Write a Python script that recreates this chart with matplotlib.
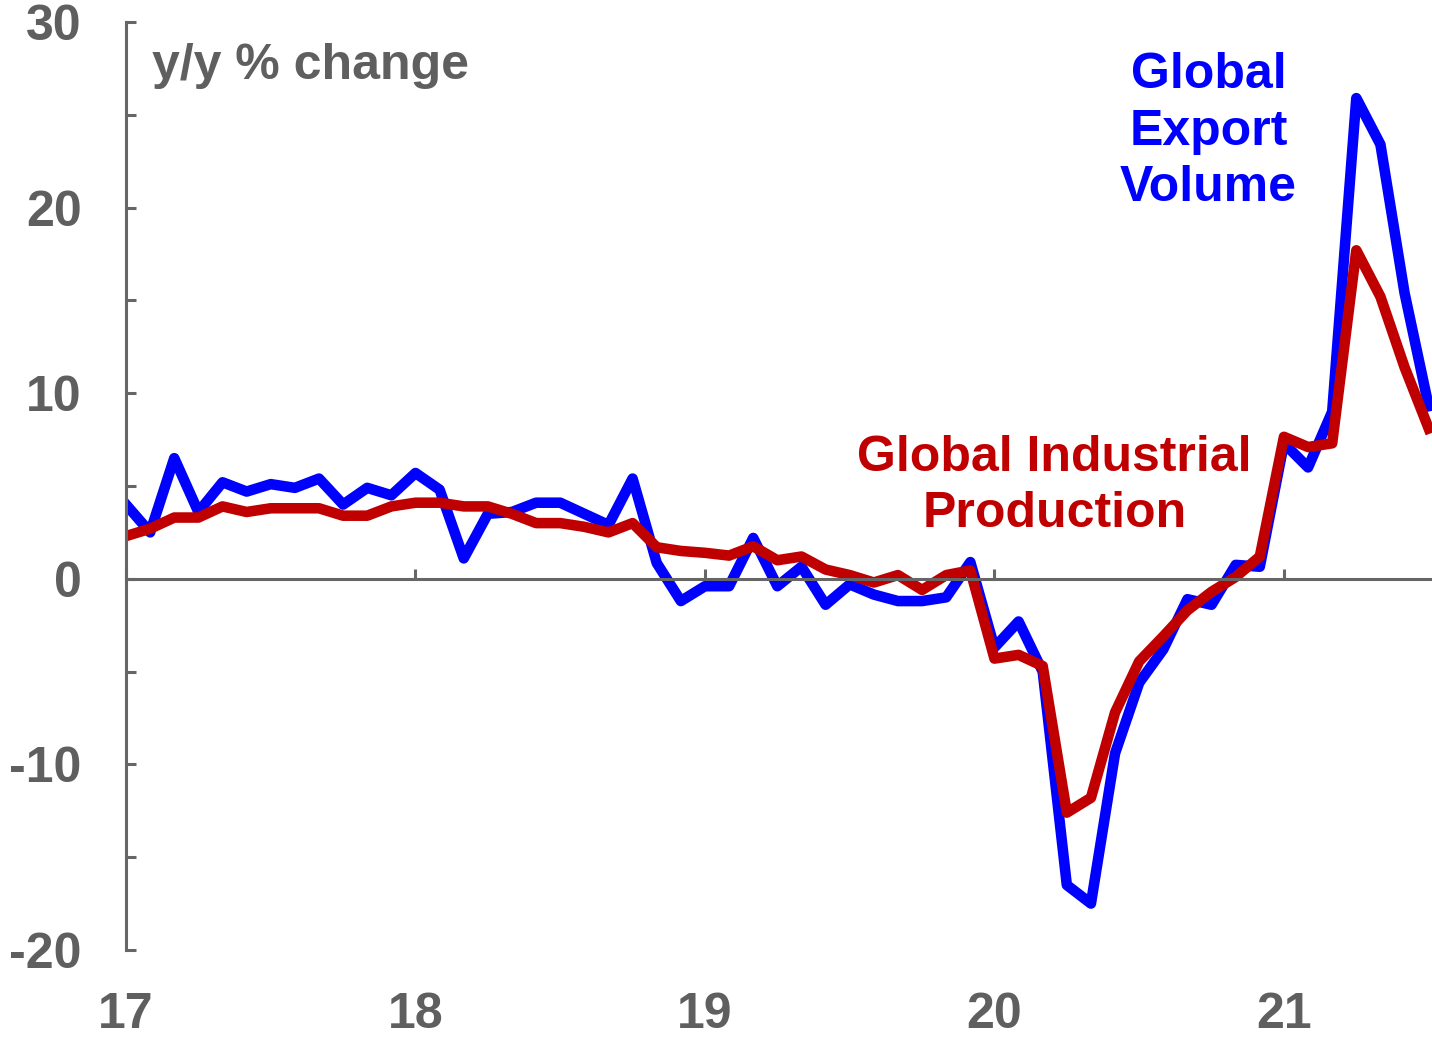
import matplotlib.pyplot as plt
import numpy as np

# monthly data, Jan 2017 .. Jul 2021
export_volume = [
    4.0, 2.5, 6.5, 3.6, 5.2, 4.7, 5.1, 4.9, 5.4, 4.0, 4.9, 4.5,
    5.7, 4.8, 1.1, 3.5, 3.6, 4.1, 4.1, 3.5, 2.9, 5.4, 0.85, -1.2,
    -0.4, -0.4, 2.2, -0.4, 0.65, -1.4, -0.3, -0.85, -1.2, -1.2, -1.0, 0.9,
    -3.7, -2.3, -5.0, -16.5, -17.5, -9.4, -5.6, -3.8, -1.1, -1.4, 0.75, 0.65,
    7.3, 6.0, 9.0, 25.9, 23.4, 15.4, 9.3,
]
industrial_production = [
    2.3, 2.7, 3.3, 3.3, 3.9, 3.6, 3.8, 3.8, 3.8, 3.4, 3.4, 3.9,
    4.1, 4.1, 3.9, 3.9, 3.5, 3.0, 3.0, 2.8, 2.5, 3.0, 1.7, 1.5,
    1.4, 1.25, 1.75, 1.0, 1.2, 0.5, 0.2, -0.2, 0.2, -0.6, 0.2, 0.45,
    -4.3, -4.1, -4.7, -12.6, -11.8, -7.2, -4.45, -3.1, -1.7, -0.7, 0.1, 1.2,
    7.65, 7.1, 7.3, 17.7, 15.2, 11.4, 8.1,
]
years = [17, 18, 19, 20, 21]
year_labels = ["17", "18", "19", "20", "21"]
y_ticks = [-20, -15, -10, -5, 0, 5, 10, 15, 20, 25, 30]

GRAY = "#5f5f5f"
AXIS = "#666666"
BLUE = "#0000ff"
RED = "#c00000"
FS = 36

plt.rcParams["font.family"] = ["Liberation Sans", "DejaVu Sans"]
plt.rcParams["font.weight"] = "bold"

fig = plt.figure(figsize=(14.32, 10.38), dpi=100)
ax = fig.add_axes([0.088, 0.0848, 0.9117, 0.894])

x = 17 + np.arange(len(export_volume)) / 12
ax.plot(x, export_volume, color=BLUE, lw=7.6, solid_joinstyle="round")
ax.plot(x, industrial_production, color=RED, lw=7.6, solid_joinstyle="round")

ax.set_xlim(17, 21.51)
ax.set_ylim(-20, 30)

for s in ["top", "right"]:
    ax.spines[s].set_visible(False)
ax.spines["left"].set_color(AXIS)
ax.spines["left"].set_linewidth(2.2)
ax.spines["bottom"].set_position(("data", 0))
ax.spines["bottom"].set_color(AXIS)
ax.spines["bottom"].set_linewidth(2.2)

ax.set_yticks(y_ticks)
ax.set_yticklabels([str(v) if v % 10 == 0 else "" for v in y_ticks])
ax.tick_params(axis="y", direction="in", length=7.5, width=2.2, color=AXIS,
               labelsize=FS, labelcolor=GRAY, pad=32)
ax.set_xticks(years)
ax.tick_params(axis="x", direction="in", length=7.5, width=2.2, color=AXIS,
               labelbottom=False)

sec = ax.secondary_xaxis("bottom")
sec.set_xticks(years)
sec.set_xticklabels(year_labels)
sec.spines["bottom"].set_visible(False)
sec.tick_params(length=0, labelsize=FS, labelcolor=GRAY, pad=30)

ax.text(0.02, 0.953, "y/y % change", transform=ax.transAxes, fontsize=FS,
        color=GRAY, fontweight="bold", ha="left", va="center")
ax.text(0.829, 0.882, "Global\nExport\nVolume", transform=ax.transAxes,
        fontsize=FS, color=BLUE, fontweight="bold", ha="center", va="center",
        linespacing=1.3)
ax.text(0.711, 0.5, "Global Industrial\nProduction", transform=ax.transAxes,
        fontsize=FS, color=RED, fontweight="bold", ha="center", va="center",
        linespacing=1.3)

fig.savefig("out.png", dpi=100)
